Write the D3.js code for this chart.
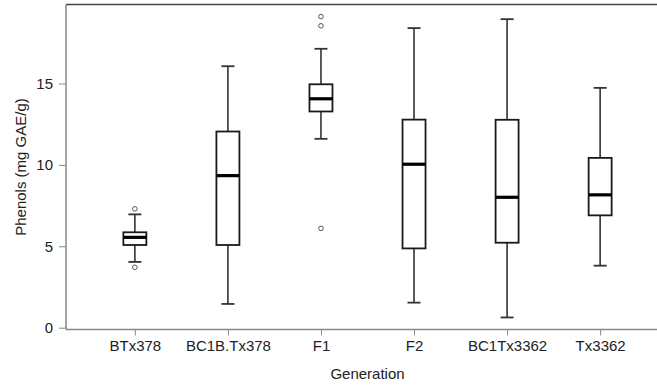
<!DOCTYPE html>
<html>
<head>
<meta charset="utf-8">
<script src="https://cdn.jsdelivr.net/npm/d3@7"></script>
<style>
  body { margin: 0; background: #fff; }
  svg { display: block; font-family: "Liberation Sans", Arial, sans-serif; }
</style>
</head>
<body>
<svg width="657" height="387"></svg>
<script>
// generations on the x axis
var generations = ["BTx378", "BC1B.Tx378", "F1", "F2", "BC1Tx3362", "Tx3362"];
// box stats (mg GAE/g)
var lowerWhisker = [4.04, 1.46, 11.60, 1.54, 0.63, 3.81];
var q1Values     = [5.08, 5.08, 13.28, 4.87, 5.22, 6.90];
var medians      = [5.55, 9.34, 14.06, 10.04, 8.01, 8.16];
var q3Values     = [5.86, 12.05, 14.95, 12.78, 12.77, 10.43];
var upperWhisker = [6.96, 16.06, 17.13, 18.40, 18.95, 14.73];
// outliers: [generation, value]
var outliers = [["BTx378", 7.30], ["BTx378", 3.71], ["F1", 19.11], ["F1", 18.54], ["F1", 6.10]];
var yTicks = [0, 5, 10, 15];

var svg = d3.select("svg");
var plotLeft = 66, plotRight = 669, plotTop = 4.5, plotBottom = 329.5;

var xScale = d3.scalePoint()
    .domain(generations)
    .range([plotLeft, plotRight])
    .padding(0.74);

var yScale = d3.scaleLinear()
    .domain([-0.11, 19.85])
    .range([plotBottom, plotTop]);

var boxW = 23, capW = 13;
var dark = "#1a1a1a";

// frame: top line plus axes
svg.append("line")
    .attr("x1", plotLeft).attr("x2", plotRight)
    .attr("y1", plotTop).attr("y2", plotTop)
    .attr("stroke", "#444").attr("stroke-width", 1.3);

var yAxis = d3.axisLeft(yScale).tickValues(yTicks).tickSize(7).tickPadding(6);
var gy = svg.append("g")
    .attr("transform", "translate(" + plotLeft + ",0)")
    .call(yAxis);
gy.select(".domain").remove();
gy.append("line").attr("x1", 0).attr("x2", 0).attr("y1", plotTop).attr("y2", plotBottom)
    .attr("stroke", "#888").attr("stroke-width", 1.5);
gy.selectAll(".tick line").attr("stroke", "#888");
gy.selectAll(".tick text").attr("fill", "#222").style("font-size", "15px")
    .style("font-family", "Liberation Sans, Arial, sans-serif");

var xAxis = d3.axisBottom(xScale).tickSize(6).tickPadding(5);
var gx = svg.append("g")
    .attr("transform", "translate(0," + plotBottom + ")")
    .call(xAxis);
gx.select(".domain").remove();
gx.append("line").attr("x1", plotLeft).attr("x2", plotRight).attr("y1", 0).attr("y2", 0)
    .attr("stroke", "#888").attr("stroke-width", 1.5);
gx.selectAll(".tick line").attr("stroke", "#888");
gx.selectAll(".tick text").attr("fill", "#222").style("font-size", "15px")
    .style("font-family", "Liberation Sans, Arial, sans-serif");

// boxes
var boxData = generations.map(function(g, i) {
    return {name: g, lo: lowerWhisker[i], q1: q1Values[i], med: medians[i], q3: q3Values[i], hi: upperWhisker[i]};
});

var boxes = svg.append("g").selectAll(".box")
    .data(boxData)
    .enter().append("g")
    .attr("class", "box")
    .attr("transform", function(d) { return "translate(" + xScale(d.name) + ",0)"; });

// whiskers
boxes.append("line")
    .attr("y1", function(d) { return yScale(d.q3); })
    .attr("y2", function(d) { return yScale(d.hi); })
    .attr("stroke", "#333").attr("stroke-width", 1.6);
boxes.append("line")
    .attr("y1", function(d) { return yScale(d.q1); })
    .attr("y2", function(d) { return yScale(d.lo); })
    .attr("stroke", "#333").attr("stroke-width", 1.6);
// staples
boxes.append("line")
    .attr("x1", -capW / 2).attr("x2", capW / 2)
    .attr("y1", function(d) { return yScale(d.hi); })
    .attr("y2", function(d) { return yScale(d.hi); })
    .attr("stroke", "#333").attr("stroke-width", 1.8);
boxes.append("line")
    .attr("x1", -capW / 2).attr("x2", capW / 2)
    .attr("y1", function(d) { return yScale(d.lo); })
    .attr("y2", function(d) { return yScale(d.lo); })
    .attr("stroke", "#333").attr("stroke-width", 1.8);

boxes.append("rect")
    .attr("x", -boxW / 2)
    .attr("width", boxW)
    .attr("y", function(d) { return yScale(d.q3); })
    .attr("height", function(d) { return yScale(d.q1) - yScale(d.q3); })
    .attr("fill", "#fff")
    .attr("stroke", dark).attr("stroke-width", 1.8);

boxes.append("line")
    .attr("x1", -boxW / 2).attr("x2", boxW / 2)
    .attr("y1", function(d) { return yScale(d.med); })
    .attr("y2", function(d) { return yScale(d.med); })
    .attr("stroke", "#000").attr("stroke-width", 3.2);

// outliers
svg.append("g").selectAll("circle")
    .data(outliers)
    .enter().append("circle")
    .attr("cx", function(d) { return xScale(d[0]); })
    .attr("cy", function(d) { return yScale(d[1]); })
    .attr("r", 2.3)
    .attr("fill", "none")
    .attr("stroke", "#555").attr("stroke-width", 1);

// axis titles
svg.append("text")
    .attr("x", (plotLeft + plotRight) / 2)
    .attr("y", 379)
    .attr("text-anchor", "middle")
    .attr("fill", "#222")
    .style("font-size", "15px")
    .text("Generation");

svg.append("text")
    .attr("transform", "translate(26," + ((plotTop + plotBottom) / 2) + ") rotate(-90)")
    .attr("text-anchor", "middle")
    .attr("fill", "#222")
    .style("font-size", "15px")
    .text("Phenols (mg GAE/g)");
</script>
</body>
</html>
